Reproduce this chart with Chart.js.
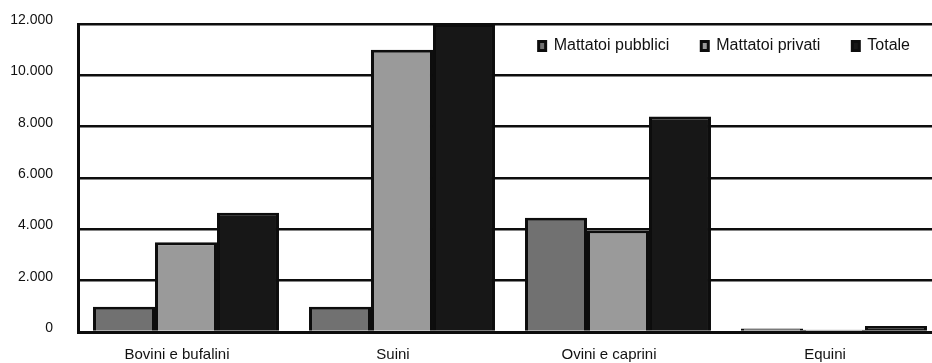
<!DOCTYPE html>
<html>
<head>
<meta charset="utf-8">
<script src="https://cdn.jsdelivr.net/npm/chart.js@4.4.1/dist/chart.umd.min.js"></script>
<style>
  html, body { margin: 0; padding: 0; background: #fff; overflow: hidden; }
  #wrap { position: relative; width: 944px; height: 363px; }
</style>
</head>
<body>
<div id="wrap"><canvas id="chart"></canvas></div>
<script>
// Categories and series values
const categories = ['Bovini e bufalini', 'Suini', 'Ovini e caprini', 'Equini'];
const pubblici = [980, 980, 4450, 140];
const privati = [3500, 11000, 3950, 90];
const totale = [4650, 12000, 8400, 230];
const seriesNames = ['Mattatoi pubblici', 'Mattatoi privati', 'Totale'];
const yTickValues = [0, 2000, 4000, 6000, 8000, 10000, 12000];
const yTickLabels = ['0', '2.000', '4.000', '6.000', '8.000', '10.000', '12.000'];

const FONT = 'Liberation Sans, Arial, sans-serif';

// The legend takes no room above the plot and is drawn inside its top edge
const legendInside = {
    id: 'legendInside',
    beforeLayout(chart) {
        const lg = chart.legend;
        if (lg && !lg._inside) {
            const fit = lg.fit;
            lg.fit = function() {
                fit.call(this);
                this.height = 0;
            };
            lg._inside = true;
        }
    },
    afterLayout(chart) {
        const lg = chart.legend;
        if (lg) {
            lg.top = 6;
            lg.bottom = 80;
            lg.height = 74;
        }
    }
};

const ctx = document.getElementById('chart').getContext('2d');
new Chart(ctx, {
    type: 'bar',
    data: {
        labels: categories,
        datasets: [
            { label: seriesNames[0], data: pubblici, backgroundColor: '#717171', borderColor: '#0d0d0d', borderWidth: 3 },
            { label: seriesNames[1], data: privati, backgroundColor: '#9a9a9a', borderColor: '#0d0d0d', borderWidth: 3 },
            { label: seriesNames[2], data: totale, backgroundColor: '#171717', borderColor: '#0d0d0d', borderWidth: 3 }
        ]
    },
    options: {
        responsive: true,
        maintainAspectRatio: false,
        animation: false,
        layout: { padding: { top: 24, right: 2, left: 0, bottom: 0 } },
        datasets: {
            bar: { categoryPercentage: 0.861, barPercentage: 1.0 }
        },
        plugins: {
            legend: {
                position: 'top',
                align: 'end',
                labels: {
                    boxWidth: 7,
                    boxHeight: 9,
                    padding: 32,
                    color: '#111',
                    font: { family: FONT, size: 16 }
                }
            },
            tooltip: { enabled: false }
        },
        scales: {
            x: {
                grid: { display: false, drawTicks: false },
                border: { display: true, color: '#0d0d0d', width: 3 },
                ticks: {
                    padding: 14,
                    labelOffset: -9,
                    color: '#111',
                    font: { family: FONT, size: 15 }
                },
                afterFit(scale) { scale.height = 31; }
            },
            y: {
                min: 0,
                max: 12000,
                grid: { color: '#0d0d0d', lineWidth: 2.5, drawTicks: false },
                border: { display: true, color: '#0d0d0d', width: 3 },
                afterBuildTicks(scale) {
                    scale.ticks = yTickValues.map(v => ({ value: v }));
                },
                ticks: {
                    padding: 25,
                    labelOffset: -4,
                    color: '#111',
                    font: { family: FONT, size: 14 },
                    callback: function(value) {
                        const i = yTickValues.indexOf(value);
                        return i >= 0 ? yTickLabels[i] : '';
                    }
                },
                afterFit(scale) {
                    scale.width = 78;
                    scale.paddingTop = 0;
                    scale.paddingBottom = 0;
                }
            }
        }
    },
    plugins: [legendInside]
});
</script>
</body>
</html>
